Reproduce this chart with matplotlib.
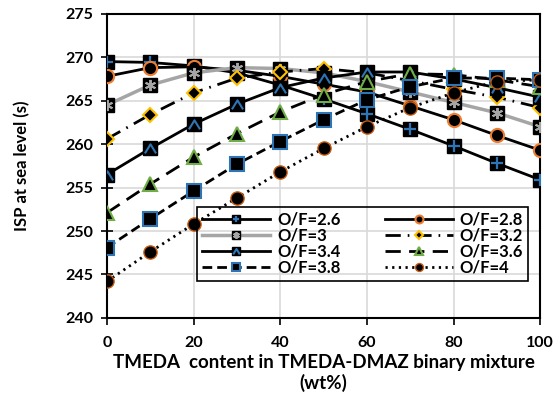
import matplotlib
matplotlib.use("Agg")
import matplotlib.pyplot as plt
from matplotlib.path import Path
from matplotlib.legend_handler import HandlerTuple

plt.rcParams["font.family"] = ["Lato", "DejaVu Sans"]
plt.rcParams["font.weight"] = "bold"

# TMEDA content (wt%)
tmeda = [0, 10, 20, 30, 40, 50, 60, 70, 80, 90, 100]

# ISP at sea level (s) per O/F ratio
isp_26 = [269.5, 269.4, 269.0, 268.2, 266.8, 265.2, 263.5, 261.7, 259.8, 257.8, 255.9]
isp_28 = [267.8, 268.8, 268.9, 268.5, 267.8, 266.9, 266.0, 264.4, 262.8, 261.0, 259.3]
isp_30 = [264.5, 266.8, 268.2, 268.8, 268.7, 268.2, 267.2, 266.0, 264.8, 263.6, 262.0]
isp_32 = [260.6, 263.4, 265.9, 267.6, 268.3, 268.7, 268.2, 267.3, 266.3, 265.4, 264.2]
isp_34 = [256.5, 259.5, 262.3, 264.6, 266.5, 267.6, 268.3, 268.3, 267.5, 266.5, 265.4]
isp_36 = [252.1, 255.4, 258.5, 261.2, 263.7, 265.7, 267.2, 268.1, 268.0, 267.4, 266.6]
isp_38 = [248.1, 251.4, 254.6, 257.7, 260.3, 262.8, 265.1, 266.6, 267.6, 267.6, 267.4]
isp_40 = [244.2, 247.6, 250.8, 253.8, 256.8, 259.5, 262.0, 264.2, 265.9, 267.2, 267.4]

labels = ["O/F=2.6", "O/F=2.8", "O/F=3", "O/F=3.2",
          "O/F=3.4", "O/F=3.6", "O/F=3.8", "O/F=4"]

BLUE = "#2E75B6"
ORANGE = "#ED7D31"
GRAY = "#A5A5A5"
GOLD = "#FFC000"
GREEN = "#70AD47"

chevron = Path([(-0.8, -0.7), (0, 0.6), (0.8, -0.7)],
               [Path.MOVETO, Path.LINETO, Path.LINETO])
asterisk = (6, 2, 0)

fig = plt.figure(figsize=(5.54, 4.05), dpi=100)
ax = fig.add_axes([0.193, 0.215, 0.782, 0.751])

lw = 2
ms = 9.5
handles = []

# O/F=2.6
l, = ax.plot(tmeda, isp_26, color="black", lw=lw, marker="s", ms=ms,
             mfc="black", mec="black", zorder=3)
o, = ax.plot(tmeda, isp_26, ls="none", marker="+", ms=8, mew=1.6,
             mec=BLUE, zorder=3)
handles.append((l, o))

# O/F=2.8
l, = ax.plot(tmeda, isp_28, color="black", lw=lw, marker="o", ms=ms,
             mfc="black", mec=ORANGE, mew=1.5, zorder=3)
handles.append(l)

# O/F=3
l, = ax.plot(tmeda, isp_30, color=GRAY, lw=lw + 0.5, marker="s", ms=ms,
             mfc="black", mec="black", zorder=3)
o, = ax.plot(tmeda, isp_30, ls="none", marker=asterisk, ms=8, mew=1.4,
             mec=GRAY, zorder=3)
handles.append((l, o))

# O/F=3.2
l, = ax.plot(tmeda, isp_32, color="black", lw=lw, marker="D", ms=7.5,
             mfc="black", mec=GOLD, mew=1.5, dashes=(5.5, 2.5, 0.6, 2.5),
             zorder=3)
handles.append(l)

# O/F=3.4
l, = ax.plot(tmeda, isp_34, color="black", lw=lw, marker="s", ms=ms,
             mfc="black", mec="black", zorder=3)
o, = ax.plot(tmeda, isp_34, ls="none", marker=chevron, ms=8, mew=1.5,
             mfc="none", mec=BLUE, zorder=3)
handles.append((l, o))

# O/F=3.6
l, = ax.plot(tmeda, isp_36, color="black", lw=lw, marker="^", ms=10,
             mfc="black", mec=GREEN, mew=1.5, dashes=(5.5, 3), zorder=3)
handles.append(l)

# O/F=3.8
l, = ax.plot(tmeda, isp_38, color="black", lw=lw, marker="s", ms=10,
             mfc="black", mec=BLUE, mew=1.5, dashes=(3.5, 1.8), zorder=3)
handles.append(l)

# O/F=4
l, = ax.plot(tmeda, isp_40, color="black", lw=lw, marker="o", ms=ms,
             mfc="black", mec="#C55A11", mew=1.0, dashes=(0.8, 1.6),
             zorder=3)
handles.append(l)

ax.set_xlim(0, 100)
ax.set_ylim(240, 275)
ax.set_xticks(range(0, 101, 20))
ax.set_yticks(range(240, 276, 5))
ax.grid(True, color="#D9D9D9", lw=1.2, zorder=0)
ax.set_axisbelow(True)
for s in ax.spines.values():
    s.set_linewidth(1.5)
    s.set_color("black")
ax.tick_params(axis="both", labelsize=11.5, direction="out", length=5,
               width=1.2, pad=8)
ax.tick_params(axis="y", direction="inout", length=8, pad=6)
for t in ax.get_xticklabels() + ax.get_yticklabels():
    t.set_fontweight("bold")

ax.set_xlabel("TMEDA  content in TMEDA-DMAZ binary mixture\n(wt%)",
              fontsize=13.5, fontweight="bold", labelpad=3, linespacing=1.2)
ax.set_ylabel("ISP at sea level (s)", fontsize=12, fontweight="bold",
              labelpad=25)

# legend is filled column by column: reorder so rows read 2.6|2.8, 3|3.2 ...
order = [0, 2, 4, 6, 1, 3, 5, 7]
leg = ax.legend([handles[i] for i in order], [labels[i] for i in order],
                ncol=2, loc="lower left",
                bbox_to_anchor=(0.208, 0.122, 0.764, 0.23), mode="expand",
                borderaxespad=0,
                handler_map={tuple: HandlerTuple(ndivide=1, pad=0)},
                numpoints=1, markerscale=0.6,
                handlelength=4.1, handletextpad=0.4,
                columnspacing=1.0, labelspacing=0.0, borderpad=0.3,
                fancybox=False, edgecolor="black", facecolor="none",
                framealpha=1, prop={"weight": "bold", "size": 12})
leg.get_frame().set_linewidth(1.2)

fig.savefig("out.png", dpi=100)
